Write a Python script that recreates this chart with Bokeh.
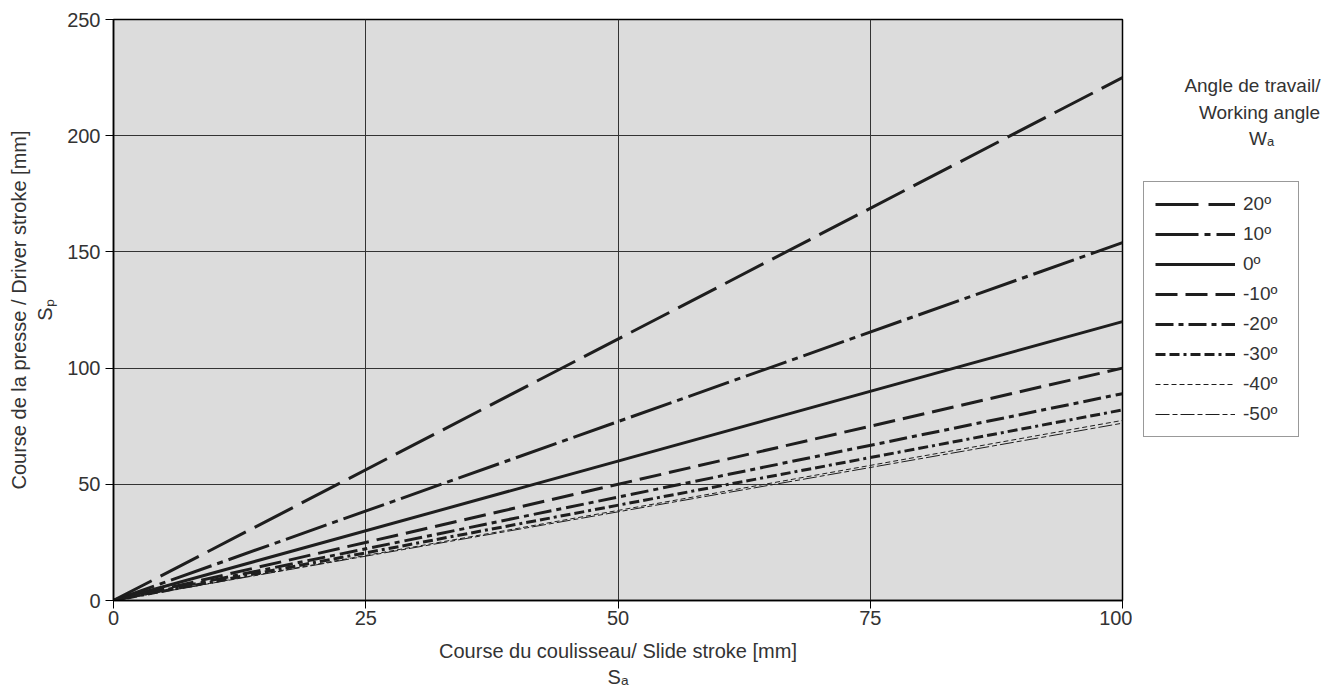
from bokeh.plotting import figure
from bokeh.models import Label, Legend, LegendItem, Range1d, FixedTicker
from bokeh.layouts import row
from bokeh.embed import file_html
from bokeh.resources import INLINE

# ---- data ----
slide_stroke = [0, 100]
angles = ["20º", "10º", "0º", "-10º", "-20º", "-30º", "-40º", "-50º"]
end_values = [225, 154, 120, 100, 89, 82, 77.5, 76.3]
x_ticks = [0, 25, 50, 75, 100]
y_ticks = [0, 50, 100, 150, 200, 250]

dashes = ["43 10", "43 6 6 6", "solid", "22 8", "18 5 5 5", "10 4 10 4 3 4", "5 3", "14 3 5 3"]
widths = [3, 3, 3, 3, 3, 3, 1, 1]

FONT = "Liberation Sans"
TXT = "#333333"
LINE = "#1e1e1e"

p = figure(frame_width=1009, frame_height=581, output_backend="svg", toolbar_location=None,
           x_range=Range1d(0, 100), y_range=Range1d(0, 250),
           min_border_left=113, min_border_right=10, min_border_top=19, min_border_bottom=85)
p.border_fill_color = "white"
p.background_fill_color = "#dcdcdc"
p.outline_line_color = "black"
p.outline_line_width = 1.5

for ax in (p.xaxis[0], p.yaxis[0]):
    ax.major_label_text_font = FONT
    ax.major_label_text_font_size = "20px"
    ax.major_label_text_color = TXT
    ax.axis_line_color = "black"
    ax.axis_line_width = 1.5
    ax.major_tick_line_color = "black"
    ax.major_tick_in = 0
    ax.major_tick_out = 8
    ax.minor_tick_line_color = None
    ax.axis_label_text_font = FONT
    ax.axis_label_text_font_size = "20px"
    ax.axis_label_text_font_style = "normal"
    ax.axis_label_text_color = TXT
p.xaxis.ticker = FixedTicker(ticks=x_ticks)
p.yaxis.ticker = FixedTicker(ticks=y_ticks)
p.xaxis.major_label_standoff = 2
p.yaxis.major_label_standoff = 5
p.xaxis.axis_label = "Course du coulisseau/ Slide stroke [mm]\nSₐ"
p.yaxis.axis_label = "Course de la presse / Driver stroke [mm]\nSₚ"
p.xaxis.axis_label_standoff = 12
p.yaxis.axis_label_standoff = 8

p.xgrid.ticker = FixedTicker(ticks=x_ticks)
p.ygrid.ticker = FixedTicker(ticks=y_ticks)
p.grid.grid_line_color = "#333333"
p.grid.grid_line_width = 1

for v, d, w in zip(end_values, dashes, widths):
    p.line(slide_stroke, [0, v], line_color=LINE, line_width=w, line_dash=d)

# ---- side panel with legend (frame aligned with the main frame: page y 19..600) ----
q = figure(width=195, height=19 + 581 + 85, output_backend="svg", toolbar_location=None,
           x_range=Range1d(1132, 1327), y_range=Range1d(600, 19),
           min_border=0, outline_line_color=None)
q.axis.visible = False
q.grid.visible = False
q.background_fill_color = "white"
q.border_fill_color = "white"

items = []
for name, d, w in zip(angles, dashes, widths):
    # sample renderer kept outside the visible range; only its style is used by the legend
    r = q.line(x=[0, 1], y=[0, 0], line_color=LINE, line_width=w, line_dash=d)
    items.append(LegendItem(label=name, renderers=[r]))

legend = Legend(items=items, location=(11, 158), glyph_width=80, glyph_height=20,
                spacing=8, padding=11, label_standoff=8, label_width=44,
                label_text_font=FONT, label_text_font_size="19px", label_text_color=TXT,
                border_line_color="#333333", border_line_width=1,
                background_fill_color="white", background_fill_alpha=1, margin=0)
q.add_layout(legend, "center")

for xx, yy, t in zip([1252, 1259, 1261], [86, 113, 139], ["Angle de travail/", "Working angle", "Wₐ"]):
    q.add_layout(Label(x=xx, y=yy, text=t, text_font=FONT, text_font_size="19px",
                       text_color=TXT, text_align="center", text_baseline="middle"))

layout = row(p, q, spacing=0)
open("out.html", "w").write(file_html(layout, INLINE))
